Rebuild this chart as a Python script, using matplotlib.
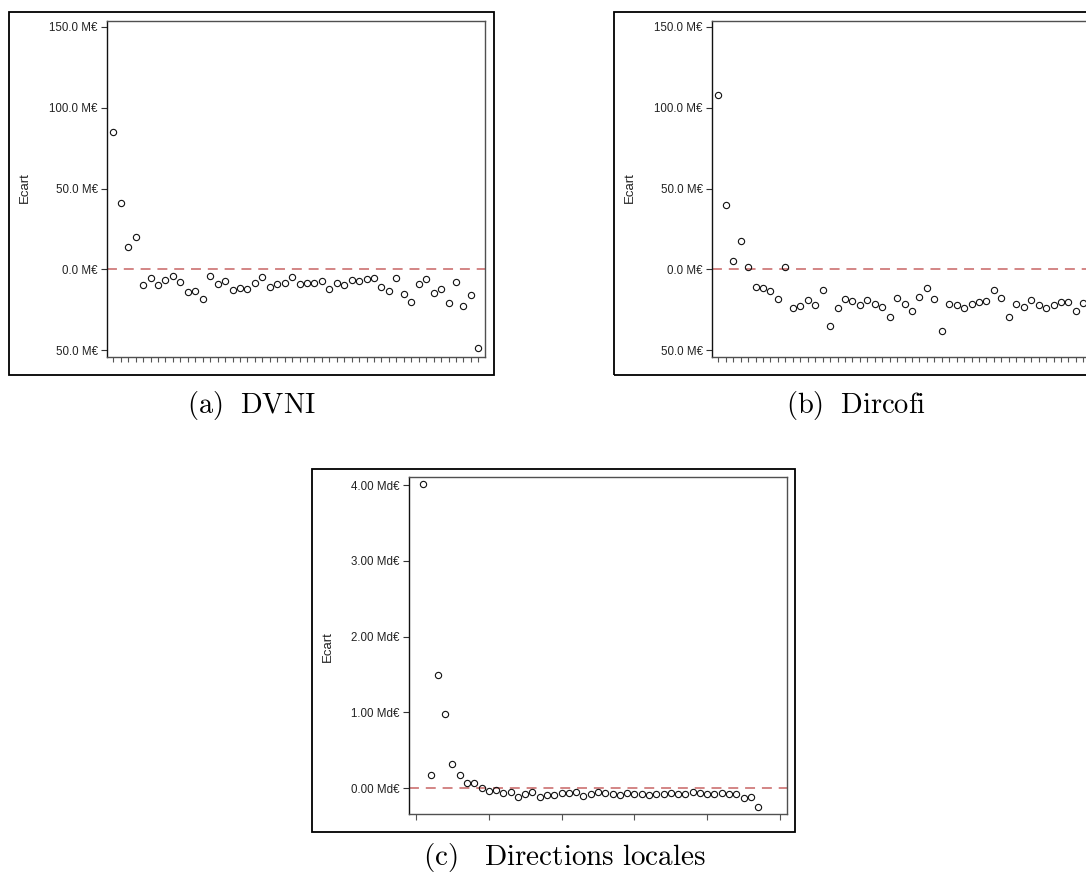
import matplotlib
matplotlib.use("Agg")
import matplotlib.pyplot as plt
from matplotlib.patches import Rectangle

plt.rcParams['font.family'] = ['Liberation Sans', 'DejaVu Sans']
plt.rcParams['mathtext.fontset'] = 'cm'

# ---------------- data ----------------
dvni_values = [84.9, 41.1, 13.6, 19.8, -9.9, -5.6, -9.9, -6.8, -4.1, -7.6,
               -14.3, -13.2, -18.4, -4.3, -9.3, -7.2, -13.0, -11.6, -12.4, -8.7,
               -4.8, -10.7, -8.9, -8.5, -5.0, -9.1, -8.3, -8.3, -7.0, -12.0,
               -8.4, -9.7, -6.7, -7.3, -6.0, -5.7, -11.0, -13.5, -5.5, -15.6,
               -20.4, -9.4, -5.8, -14.6, -12.3, -21.0, -7.9, -22.9, -15.7, -49.0]

dircofi_values = [107.6, 39.5, 5.0, 17.4, 1.7, -11.2, -11.4, -13.2, -18.4, 1.2,
                  -24.2, -22.7, -19.2, -22.3, -12.6, -34.9, -24.0, -18.4, -19.6, -22.3,
                  -19.2, -21.3, -23.4, -29.3, -18.0, -21.4, -25.6, -17.2, -11.6, -18.4,
                  -38.4, -21.2, -22.3, -23.8, -21.2, -20.0, -19.6, -12.9, -17.5, -29.3,
                  -21.8, -23.5, -19.0, -22.1, -23.8, -22.0, -20.3, -20.0, -25.6, -21.0]

dl_values = [4.018, 0.176, 1.498, 0.974, 0.322, 0.176, 0.066, 0.066, 0.0, -0.044,
             -0.026, -0.070, -0.057, -0.123, -0.075, -0.048, -0.119, -0.093, -0.093, -0.070,
             -0.066, -0.053, -0.101, -0.079, -0.057, -0.070, -0.084, -0.088, -0.066, -0.084,
             -0.084, -0.093, -0.079, -0.084, -0.062, -0.079, -0.084, -0.057, -0.066, -0.075,
             -0.075, -0.066, -0.079, -0.084, -0.132, -0.115, -0.251]

meuro_ticks = [-50, 0, 50, 100, 150]
meuro_labels = ['50.0 M€', '0.0 M€', '50.0 M€', '100.0 M€', '150.0 M€']
mdeuro_ticks = [0, 1, 2, 3, 4]
mdeuro_labels = ['0.00 Md€', '1.00 Md€', '2.00 Md€', '3.00 Md€', '4.00 Md€']
dl_xticks = [0, 10, 20, 30, 40, 50]

captions = [r'$\mathrm{(a)\ \ DVNI}$', r'$\mathrm{(b)\ \ Dircofi}$',
            r'$\mathrm{(c)\quad Directions\ locales}$']
ylabel = 'Ecart'

# ---------------- layout ----------------
W, H = 1086, 876
fig = plt.figure(figsize=(W / 100, H / 100), dpi=100)


def px_rect(l, t, r, b):
    return [l / W, 1 - b / H, (r - l) / W, (b - t) / H]


def frame(l, t, r, b):
    x, y, w, h = px_rect(l, t, r, b)
    fig.add_artist(Rectangle((x, y), w, h, transform=fig.transFigure,
                             fill=False, edgecolor='black', linewidth=1.3))


spine_col = '#505050'
ref_col = '#c86464'


def style_axes(ax):
    for s in ax.spines.values():
        s.set_color(spine_col)
        s.set_linewidth(1.0)
    ax.spines['left'].set_color('#111111')
    ax.tick_params(axis='y', direction='out', length=4.5, width=0.8, pad=2.2,
                   labelsize=8.3, colors='#333333', labelcolor='#222222')
    ax.tick_params(axis='x', direction='out', width=0.8, colors='#555555',
                   labelbottom=False)


def scatter(ax, xs, ys):
    ax.plot(xs, ys, linestyle='none', marker='o', markersize=4.5,
            markerfacecolor='none', markeredgecolor='#111111',
            markeredgewidth=0.8, zorder=3)


# panel (a)
frame(9, 12, 494, 375)
ax_a = fig.add_axes(px_rect(107, 21, 485, 357))
xa = list(range(1, len(dvni_values) + 1))
ax_a.axhline(0, color=ref_col, lw=1.1, linestyle=(0, (6.5, 4.5)), zorder=2)
scatter(ax_a, xa, dvni_values)
ax_a.set_xlim(0.15, 50.9)
ax_a.set_ylim(-54.3, 153.7)
ax_a.set_yticks(meuro_ticks, meuro_labels)
ax_a.set_xticks(xa)
style_axes(ax_a)
ax_a.tick_params(axis='x', length=3.6)
fig.text(25 / W, 1 - 188 / H, ylabel, rotation=90, ha='center', va='center',
         fontsize=9.5, color='#222222')
fig.text(251 / W, 1 - 406 / H, captions[0], ha='center', va='center',
         fontsize=20.5)

# panel (b) - partially cut by the figure edge
frame(614, 12, 1099, 375)
ax_b = fig.add_axes(px_rect(712, 21, 1090, 357))
xb = list(range(1, len(dircofi_values) + 1))
ax_b.axhline(0, color=ref_col, lw=1.1, linestyle=(0, (6.5, 4.5)), zorder=2)
scatter(ax_b, xb, dircofi_values)
ax_b.set_xlim(0.15, 50.9)
ax_b.set_ylim(-54.3, 153.7)
ax_b.set_yticks(meuro_ticks, meuro_labels)
ax_b.set_xticks(xb)
style_axes(ax_b)
ax_b.tick_params(axis='x', length=3.6)
fig.text(630 / W, 1 - 188 / H, ylabel, rotation=90, ha='center', va='center',
         fontsize=9.5, color='#222222')
fig.text(856 / W, 1 - 406 / H, captions[1], ha='center', va='center',
         fontsize=20.5)

# panel (c)
frame(312, 469, 795, 832)
ax_c = fig.add_axes(px_rect(409, 477, 787, 814))
xc = list(range(1, len(dl_values) + 1))
ax_c.axhline(0, color=ref_col, lw=1.1, linestyle=(0, (6.5, 4.5)), zorder=2)
scatter(ax_c, xc, dl_values)
ax_c.set_xlim(-0.96, 50.96)
ax_c.set_ylim(-0.343, 4.106)
ax_c.set_yticks(mdeuro_ticks, mdeuro_labels)
ax_c.set_xticks(dl_xticks)
style_axes(ax_c)
ax_c.tick_params(axis='x', length=4.5)
fig.text(328 / W, 1 - 647 / H, ylabel, rotation=90, ha='center', va='center',
         fontsize=9.5, color='#222222')
fig.text(564 / W, 1 - 857 / H, captions[2], ha='center', va='center',
         fontsize=21)

fig.savefig('out.png', dpi=100)
